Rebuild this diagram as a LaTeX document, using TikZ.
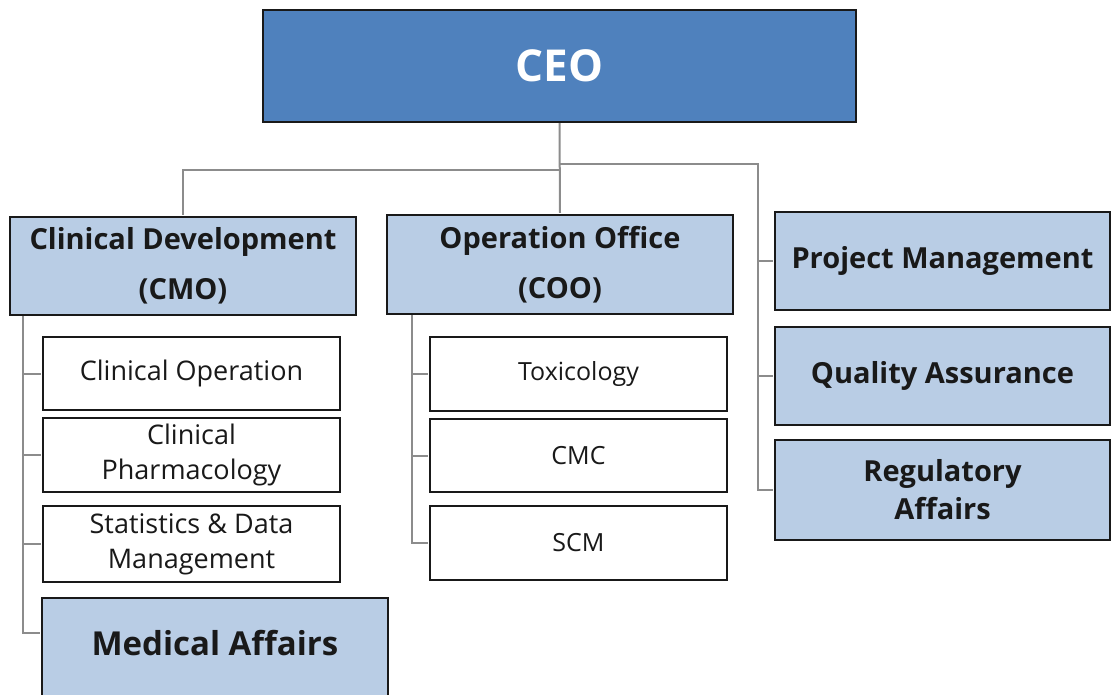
\documentclass[tikz,border=0pt]{standalone}
\usepackage{fontspec}
\setmainfont{Open Sans}
\definecolor{ceoblue}{HTML}{4F81BD}
\definecolor{unitblue}{HTML}{B9CDE5}
\definecolor{linkgray}{HTML}{8C8C8C}
\tikzset{
  box/.style={draw=black!90, line width=2.2pt, rectangle, align=center, inner sep=0pt, text=black!90},
  headbox/.style={box, fill=unitblue, font=\fontsize{29}{50}\selectfont\bfseries},
  subbox/.style={box, fill=white, font=\fontsize{27}{35}\selectfont},
  link/.style={draw=linkgray, line width=2pt, shorten >=1.1pt},
}
\begin{document}
\begin{tikzpicture}[x=1pt, y=-1pt]
  \useasboundingbox (0,0) rectangle (1111,694);
  \node[box, fill=ceoblue, text=white, font=\fontsize{44}{50}\selectfont\bfseries, minimum width=593pt, minimum height=112pt] (ceo) at (559.5,66) {CEO};

  \node[headbox, minimum width=346pt, minimum height=98pt] (cmo) at (183,266) {Clinical Development\\(CMO)};
  \node[headbox, minimum width=346pt, minimum height=99pt] (coo) at (560,264.5) {Operation Office\\(COO)};
  \node[headbox, text depth=8pt, minimum width=335pt, minimum height=98pt] (pm) at (942.5,261) {Project Management};
  \node[headbox, minimum width=335pt, minimum height=98pt] (qa) at (942.5,376) {Quality Assurance};
  \node[headbox, font=\fontsize{29}{38}\selectfont\bfseries, minimum width=335pt, minimum height=100pt] (ra) at (942.5,490) {Regulatory\\Affairs};

  \node[subbox, minimum width=297pt, minimum height=73pt] (co) at (191.5,373.5) {Clinical Operation};
  \node[subbox, minimum width=297pt, minimum height=74pt] (cp) at (191.5,455) {Clinical\\Pharmacology};
  \node[subbox, minimum width=297pt, minimum height=76pt] (sd) at (191.5,544) {Statistics \& Data\\Management};
  \node[headbox, font=\fontsize{33}{40}\selectfont\bfseries, text depth=12pt, minimum width=346pt, minimum height=102pt] (ma) at (215,649) {Medical Affairs};

  \node[subbox, font=\fontsize{25}{33}\selectfont, minimum width=297pt, minimum height=74pt] (tox) at (578.5,374) {Toxicology};
  \node[subbox, font=\fontsize{25}{33}\selectfont, minimum width=297pt, minimum height=73pt] (cmc) at (578.5,455.5) {CMC};
  \node[subbox, font=\fontsize{25}{33}\selectfont, minimum width=297pt, minimum height=74pt] (scm) at (578.5,543) {SCM};

  \coordinate (lsplit) at (560,170);
  \coordinate (rsplit) at (560,164);
  \coordinate (rbus) at (758,164);
  \draw[link] (ceo.south) -- (coo.north);
  \draw[link] (lsplit) -| (cmo.north);
  \draw[link] (rsplit) -- (rbus) |- (ra.west);
  \foreach \n in {pm,qa} \draw[link] (rbus |- \n.west) -- (\n.west);

  \coordinate (lbus) at ([xshift=14pt]cmo.south west);
  \draw[link] (lbus) |- ([yshift=16pt]ma.west);
  \foreach \n in {co,cp,sd} \draw[link] (lbus |- \n.west) -- (\n.west);

  \coordinate (mbus) at ([xshift=26pt]coo.south west);
  \draw[link] (mbus) |- (scm.west);
  \foreach \n in {tox,cmc} \draw[link] (mbus |- \n.west) -- (\n.west);
\end{tikzpicture}
\end{document}
